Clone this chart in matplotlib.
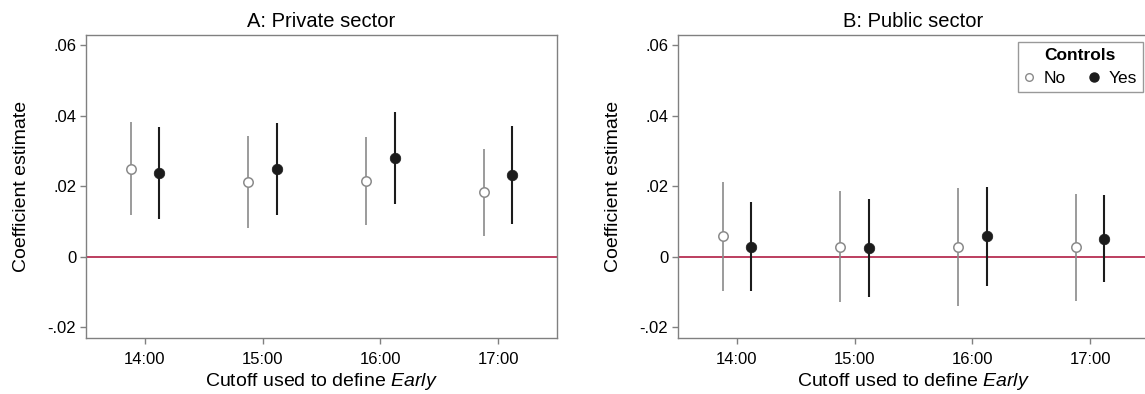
import matplotlib
matplotlib.use("Agg")
import matplotlib.pyplot as plt
from matplotlib.lines import Line2D

plt.rcParams['font.family'] = ['Liberation Sans', 'DejaVu Sans']
plt.rcParams['mathtext.fontset'] = 'custom'
plt.rcParams['mathtext.rm'] = 'Liberation Sans'
plt.rcParams['mathtext.it'] = 'Liberation Sans:italic'

cutoffs = ["14:00", "15:00", "16:00", "17:00"]

# Panel A: Private sector
a_no_est = [0.0249, 0.0211, 0.0214, 0.0183]
a_no_lo = [0.0117, 0.0082, 0.0090, 0.0060]
a_no_hi = [0.0383, 0.0341, 0.0338, 0.0306]
a_yes_est = [0.0237, 0.0249, 0.0279, 0.0231]
a_yes_lo = [0.0108, 0.0119, 0.0149, 0.0094]
a_yes_hi = [0.0367, 0.0380, 0.0409, 0.0369]

# Panel B: Public sector
b_no_est = [0.0058, 0.0029, 0.0028, 0.0028]
b_no_lo = [-0.0097, -0.0127, -0.0139, -0.0124]
b_no_hi = [0.0212, 0.0186, 0.0194, 0.0179]
b_yes_est = [0.0029, 0.0025, 0.0059, 0.0051]
b_yes_lo = [-0.0096, -0.0113, -0.0082, -0.0072]
b_yes_hi = [0.0156, 0.0165, 0.0199, 0.0174]

yticks = [-0.02, 0, 0.02, 0.04, 0.06]
ytick_labels = ["-.02", "0", ".02", ".04", ".06"]

GRAY = "#8a8a8a"
BLACK = "#1c1c1c"
FRAME = "#808080"
ZERO = "#b01e44"

W, H = 1145, 394
fig = plt.figure(figsize=(W / 100, H / 100), dpi=100)

def fr(x0, x1, ytop, ybot):
    return [x0 / W, 1 - ybot / H, (x1 - x0) / W, (ybot - ytop) / H]

axA = fig.add_axes(fr(86, 557, 35, 337.7))
axB = fig.add_axes(fr(678, 1149, 35, 337.7))

def draw(ax, title, no_est, no_lo, no_hi, yes_est, yes_lo, yes_hi):
    pos = list(range(1, len(cutoffs) + 1))
    off = 0.12
    ax.axhline(0, color=ZERO, lw=1.2, zorder=1)
    for i, p in enumerate(pos):
        ax.plot([p - off, p - off], [no_lo[i], no_hi[i]], color=GRAY, lw=1.2, zorder=2,
                solid_capstyle='butt')
        ax.plot([p + off, p + off], [yes_lo[i], yes_hi[i]], color=BLACK, lw=1.5, zorder=2,
                solid_capstyle='butt')
    ax.plot([p - off for p in pos], no_est, 'o', ms=6.8, mfc='white', mec=GRAY, mew=1.1,
            ls='none', zorder=3)
    ax.plot([p + off for p in pos], yes_est, 'o', ms=7.6, mfc=BLACK, mec=BLACK, mew=0.5,
            ls='none', zorder=3)
    ax.set_xlim(0.5, 4.5)
    ax.set_ylim(-0.0229, 0.0628)
    ax.set_xticks(pos)
    ax.set_xticklabels(cutoffs)
    ax.set_yticks(yticks)
    ax.set_yticklabels(ytick_labels)
    for s in ax.spines.values():
        s.set_color(FRAME)
        s.set_linewidth(1.0)
    ax.tick_params(axis='both', colors=FRAME, labelcolor='black', labelsize=12,
                   length=4, width=1.0, direction='out', pad=3)
    ax.tick_params(axis='x', pad=6)
    ax.set_title(title, fontsize=14.5, pad=6)
    ax.set_ylabel("Coefficient estimate", fontsize=14, labelpad=13)
    ax.set_xlabel(r"Cutoff used to define $\it{Early}$", fontsize=14, labelpad=3)

draw(axA, "A: Private sector", a_no_est, a_no_lo, a_no_hi, a_yes_est, a_yes_lo, a_yes_hi)
draw(axB, "B: Public sector", b_no_est, b_no_lo, b_no_hi, b_yes_est, b_yes_lo, b_yes_hi)

handles = [
    Line2D([], [], marker='o', ls='none', ms=5.5, mfc='white', mec=GRAY, mew=1.0),
    Line2D([], [], marker='o', ls='none', ms=6.5, mfc=BLACK, mec=BLACK),
]
leg = axB.legend(handles, ["No", "Yes"], title="Controls", ncol=2, loc='upper right',
                 bbox_to_anchor=(0.987, 0.977), borderaxespad=0, fontsize=12.5,
                 title_fontproperties={'weight': 'bold', 'size': 12.5},
                 frameon=True, fancybox=False, handletextpad=0.55, columnspacing=1.3,
                 handlelength=0.6, borderpad=0.35, labelspacing=0.45)
leg.get_frame().set_edgecolor(FRAME)
leg.get_frame().set_linewidth(1.0)

fig.savefig("out.png", dpi=100)
